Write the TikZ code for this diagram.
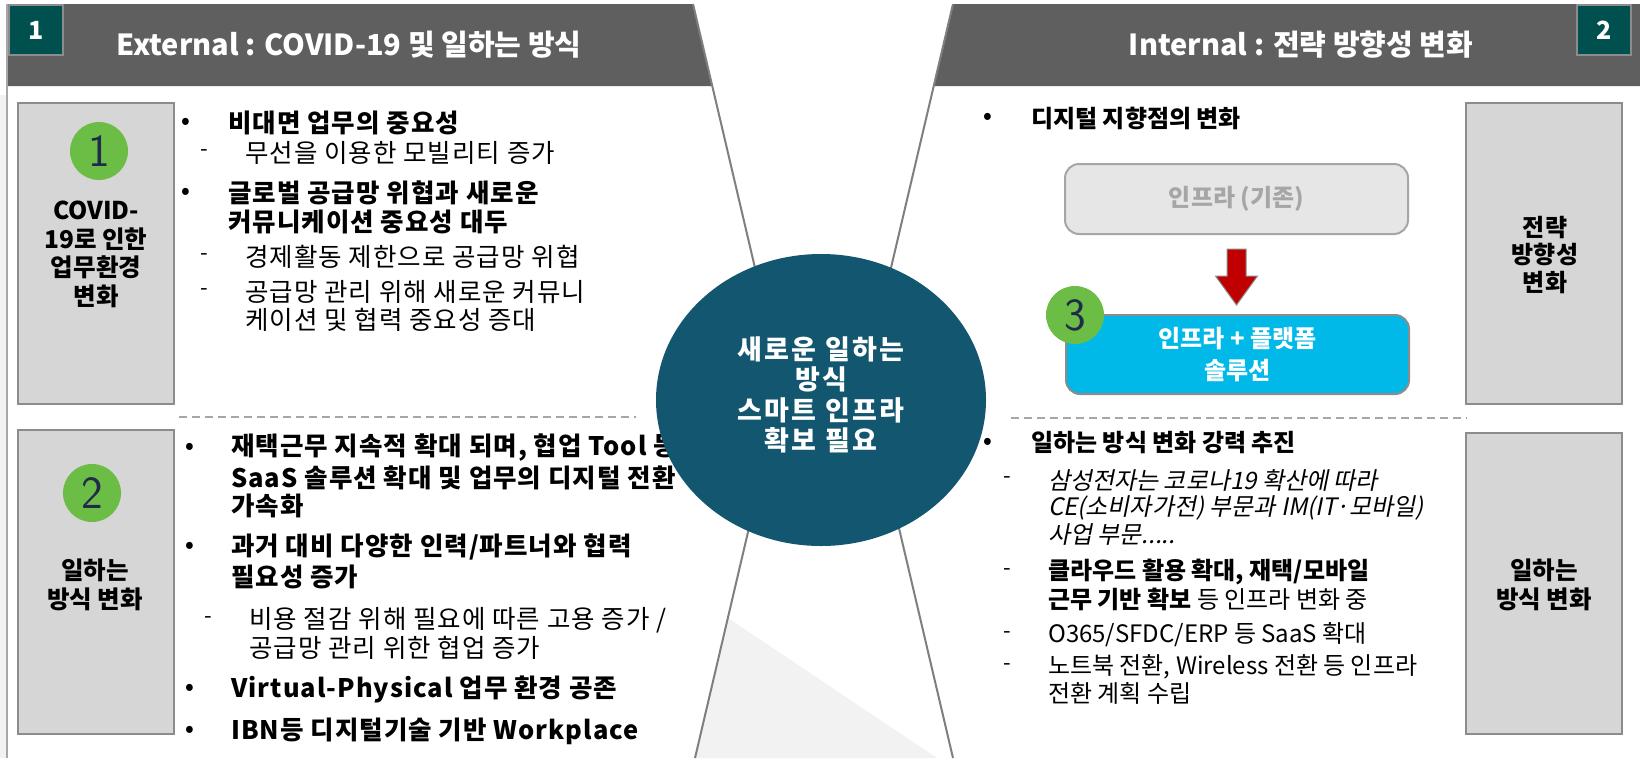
\documentclass[tikz,border=0pt]{standalone}
\usepackage{fontspec}
\setmainfont{Noto Sans CJK KR}
\newfontfamily\itkr{Noto Sans CJK KR}[FakeSlant=0.2]
\usetikzlibrary{shapes.geometric,calc}
\definecolor{hdr}{HTML}{5F5F5F}
\definecolor{numbg}{HTML}{00504F}
\definecolor{lblbg}{HTML}{D6D6D6}
\definecolor{brd}{HTML}{8C8C8C}
\definecolor{grn}{HTML}{6CBD45}
\definecolor{navy}{HTML}{1F2B4A}
\definecolor{ellc}{HTML}{12566F}
\definecolor{darr}{HTML}{C00000}
\definecolor{oldbg}{HTML}{E6E6E6}
\definecolor{oldtx}{HTML}{A6A6A6}
\definecolor{cyanbg}{HTML}{00B9E8}
\definecolor{slc}{HTML}{7F7F7F}
\definecolor{dshc}{HTML}{A6A6A6}
\definecolor{lgr}{HTML}{F2F2F2}
\tikzset{
  numbox/.style={fill=numbg, draw=brd, line width=1.5pt, text=white, minimum width=54, minimum height=50, inner sep=0, font=\fontsize{25}{27}\selectfont\bfseries},
  hdrtext/.style={text=white, inner sep=0, font=\fontsize{29}{32}\selectfont\bfseries},
  lbox/.style={fill=lblbg, draw=brd, line width=2pt, minimum width=156, inner sep=0},
  lbl/.style={align=center, inner sep=0, font=\fontsize{24.5}{28.5}\selectfont\bfseries},
  gcirc/.style={circle, fill=grn, minimum size=58, inner sep=0, text=navy, font=\sffamily\fontsize{46}{46}\selectfont},
  bu/.style={inner sep=0, font=\fontsize{22}{24}\selectfont\bfseries},
  da/.style={inner sep=0, font=\fontsize{22}{24}\selectfont},
  bt/.style={anchor=west, inner sep=0, font=\fontsize{24}{28}\selectfont\bfseries},
  rt/.style={anchor=west, inner sep=0, font=\fontsize{24}{28}\selectfont},
  btl/.style={anchor=west, inner sep=0, font=\fontsize{25.5}{28}\selectfont\bfseries\addfontfeature{LetterSpace=4}},
  rtl/.style={anchor=west, inner sep=0, font=\fontsize{25.5}{28}\selectfont\addfontfeature{LetterSpace=4}},
  itx/.style={anchor=west, inner sep=0, font=\itkr\fontsize{24}{28}\selectfont},
  sl/.style={draw=slc, line width=2pt},
  dsh/.style={draw=dshc, line width=2.5pt, dash pattern=on 8pt off 5pt},
  oldbox/.style={rounded corners=14pt, fill=oldbg, draw=oldtx, line width=2pt, text=oldtx, minimum width=343, minimum height=70, font=\fontsize{24}{28}\selectfont\bfseries},
  newbox/.style={rounded corners=14pt, fill=cyanbg, draw=brd, line width=2pt, text=white, minimum width=343, minimum height=79, align=center, font=\fontsize{24}{32}\selectfont\bfseries},
  ell/.style={ellipse, fill=ellc, minimum width=330, minimum height=292, inner sep=0},
  elltext/.style={text=white, inner sep=0, align=center, font=\fontsize{27}{30.5}\selectfont\bfseries\addfontfeature{LetterSpace=8}},
  redarr/.style={fill=darr, draw=brd, line width=1pt, line join=miter}
}
\begin{document}
\begin{tikzpicture}[x=1pt, y=-1pt]
\useasboundingbox (0,0) rectangle (1640,758);
\fill[white] (0,0) rectangle (1640,758);
% background pieces
\fill[lgr] (0,95) rectangle (6,758);
\fill[lgr] (727.9,618) -- (937,758) -- (695,758) -- cycle;
% headers
\fill[hdr] (7,4) -- (693,4) -- (712.3,86) -- (7,86) -- cycle;
\fill[hdr] (953,4) -- (1640,4) -- (1640,86) -- (933.7,86) -- cycle;
\draw[draw=dshc, line width=1.5pt] (7,4) -- (7,758);
% outline lines
\coordinate (LT) at (693,4);
\coordinate (LA) at (782.5,385);
\coordinate (LB) at (695,758);
\coordinate (RT) at (953,4);
\coordinate (RA) at (864.4,381);
\coordinate (RB) at (953,758);
\draw[sl] (LT) -- (LA) -- (LB);
\draw[sl] (RT) -- (RA) -- (RB);
\node[numbox] (n1) at (36,30) {1};
\node[numbox] (n2) at (1604,30) {2};
\node[hdrtext] (h1) at (349,45) {External : COVID-19 및 일하는 방식};
\node[hdrtext] (h2) at (1301,45) {Internal : 전략 방향성 변화};
% label boxes
\node[lbox, minimum height=301] (b1) at (96,253.5) {};
\node[lbox, minimum height=304] (b2) at (96,582) {};
\node[lbox, minimum height=301] (b3) at (1544,253.5) {};
\node[lbox, minimum height=301] (b4) at (1544,583.5) {};
\node[gcirc] (c1) at (99,151) {1};
\node[gcirc] (c2) at (92,493) {2};
\node[lbl] (l1) at (96,254.5) {COVID-\\19로 인한\\업무환경\\변화};
\node[lbl] (l2) at (95,585) {일하는\\방식 변화};
\node[lbl, font=\fontsize{24}{27.5}\selectfont\bfseries] (l3) at (1545,255) {전략\\방향성\\변화};
\node[lbl] (l4) at (1544,585) {일하는\\방식 변화};
% dashed separators
\draw[dsh] (179,417) -- (636,417);
\draw[dsh] (1011,418) -- (1467,418);
% left top
\node[bu] (bu1) at (186,123) {•};
\node[btl] (t1) at (228,123) {비대면 업무의 중요성};
\node[da] (da1) at (204,153) {-};
\node[rtl] (t2) at (245,153) {무선을 이용한 모빌리티 증가};
\node[bu] (bu2) at (186,193) {•};
\node[btl] (t3) at (228,193) {글로벌 공급망 위협과 새로운};
\node[btl] (t4) at (228,222) {커뮤니케이션 중요성 대두};
\node[da] (da2) at (204,257) {-};
\node[rtl] (t5) at (245,257) {경제활동 제한으로 공급망 위협};
\node[da] (da3) at (204,292) {-};
\node[rtl] (t6) at (245,292) {공급망 관리 위해 새로운 커뮤니};
\node[rtl] (t7) at (245,320) {케이션 및 협력 중요성 증대};
% left bottom
\node[bu] (bu3) at (190,448) {•};
\node[btl] (t8) at (231,448) {재택근무 지속적 확대 되며, 협업 Tool 등};
\node[btl] (t9) at (231,478) {SaaS 솔루션 확대 및 업무의 디지털 전환};
\node[btl] (t10) at (231,506) {가속화};
\node[bu] (bu4) at (190,547) {•};
\node[btl] (t11) at (231,547) {과거 대비 다양한 인력/파트너와 협력};
\node[btl] (t12) at (231,577) {필요성 증가};
\node[da] (da4) at (208,620) {-};
\node[rtl] (t13) at (249,620) {비용 절감 위해 필요에 따른 고용 증가 /};
\node[rtl] (t14) at (249,648) {공급망 관리 위한 협업 증가};
\node[bu] (bu5) at (190,689) {•};
\node[btl] (t15) at (231,689) {Virtual-Physical 업무 환경 공존};
\node[bu] (bu6) at (190,731) {•};
\node[btl] (t16) at (231,731) {IBN등 디지털기술 기반 Workplace};
% right top
\node[bu] (bu7) at (988,118) {•};
\node[bt] (t17) at (1031,118) {디지털 지향점의 변화};
\node[oldbox] (old) at (1236.5,199) {인프라 (기존)};
\node[newbox] (new) at (1237.5,354.5) {인프라 + 플랫폼\\솔루션};
\draw[redarr] ($(old.south)+(-9.5,14)$) -- ($(old.south)+(9.5,14)$) -- ($(old.south)+(9.5,41)$) -- ($(old.south)+(21,41)$) -- ($(old.south)+(0,70)$) -- ($(old.south)+(-21,41)$) -- ($(old.south)+(-9.5,41)$) -- cycle;
\node[gcirc] (c3) at (1075,315) {3};
% right bottom
\node[bu] (bu8) at (988,443) {•};
\node[bt] (t18) at (1031,443) {일하는 방식 변화 강력 추진};
\node[da] (da5) at (1007,480) {-};
\node[itx] (t19) at (1048,480) {삼성전자는 코로나19 확산에 따라};
\node[itx] (t20) at (1048,508) {CE(소비자가전) 부문과 IM(IT·모바일)};
\node[itx] (t21) at (1048,535) {사업 부문.....};
\node[da] (da6) at (1007,572) {-};
\node[bt] (t22) at (1048,572) {클라우드 활용 확대, 재택/모바일};
\node[rt] (t23) at (1048,599) {\textbf{근무 기반 확보} 등 인프라 변화 중};
\node[da] (da7) at (1007,635) {-};
\node[rt] (t24) at (1048,635) {O365/SFDC/ERP 등 SaaS 확대};
\node[da] (da8) at (1007,667) {-};
\node[rt] (t25) at (1048,667) {노트북 전환, Wireless 전환 등 인프라};
\node[rt] (t26) at (1048,693) {전환 계획 수립};
% center ellipse
\node[ell] (ctr) at (821,400) {};
\node[elltext] (ctrt) at ($(ctr)+(0,-5)$) {새로운 일하는\\방식\\스마트 인프라\\확보 필요};
\end{tikzpicture}
\end{document}
